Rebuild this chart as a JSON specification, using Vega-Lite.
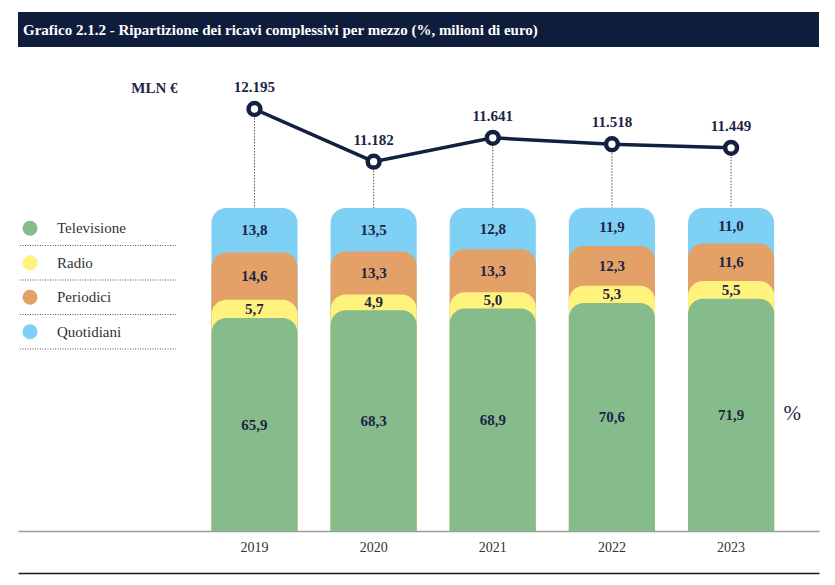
{
  "$schema": "https://vega.github.io/schema/vega-lite/v6.json",
  "padding": {"left": 18, "top": 12, "right": 16, "bottom": 5},
  "background": "white",
  "config": {
    "font": "Liberation Serif",
    "view": {"stroke": null},
    "locale": {"number": {"decimal": ",", "thousands": ".", "grouping": [3], "currency": ["", " €"]}}
  },
  "datasets": {
    "shares": [
      {"year": "2019", "medium": "Televisione", "rank": 1, "pct": 65.9},
      {"year": "2019", "medium": "Radio", "rank": 2, "pct": 5.7},
      {"year": "2019", "medium": "Periodici", "rank": 3, "pct": 14.6},
      {"year": "2019", "medium": "Quotidiani", "rank": 4, "pct": 13.8},
      {"year": "2020", "medium": "Televisione", "rank": 1, "pct": 68.3},
      {"year": "2020", "medium": "Radio", "rank": 2, "pct": 4.9},
      {"year": "2020", "medium": "Periodici", "rank": 3, "pct": 13.3},
      {"year": "2020", "medium": "Quotidiani", "rank": 4, "pct": 13.5},
      {"year": "2021", "medium": "Televisione", "rank": 1, "pct": 68.9},
      {"year": "2021", "medium": "Radio", "rank": 2, "pct": 5.0},
      {"year": "2021", "medium": "Periodici", "rank": 3, "pct": 13.3},
      {"year": "2021", "medium": "Quotidiani", "rank": 4, "pct": 12.8},
      {"year": "2022", "medium": "Televisione", "rank": 1, "pct": 70.6},
      {"year": "2022", "medium": "Radio", "rank": 2, "pct": 5.3},
      {"year": "2022", "medium": "Periodici", "rank": 3, "pct": 12.3},
      {"year": "2022", "medium": "Quotidiani", "rank": 4, "pct": 11.9},
      {"year": "2023", "medium": "Televisione", "rank": 1, "pct": 71.9},
      {"year": "2023", "medium": "Radio", "rank": 2, "pct": 5.5},
      {"year": "2023", "medium": "Periodici", "rank": 3, "pct": 11.6},
      {"year": "2023", "medium": "Quotidiani", "rank": 4, "pct": 11.0}
    ],
    "totals": [
      {"year": "2019", "total": 12195},
      {"year": "2020", "total": 11182},
      {"year": "2021", "total": 11641},
      {"year": "2022", "total": 11518},
      {"year": "2023", "total": 11449}
    ],
    "media": [
      {"medium": "Televisione"},
      {"medium": "Radio"},
      {"medium": "Periodici"},
      {"medium": "Quotidiani"}
    ]
  },
  "spacing": 13,
  "bounds": "flush",
  "vconcat": [
    {
      "width": 801,
      "height": 35,
      "view": {"fill": "#0f1d3d", "stroke": null},
      "data": {"values": [{"title": "Grafico 2.1.2 - Ripartizione dei ricavi complessivi per mezzo (%, milioni di euro)"}]},
      "mark": {"type": "text", "align": "left", "baseline": "middle", "dx": 5, "font": "Liberation Serif", "fontWeight": "bold", "fontSize": 15, "color": "white"},
      "encoding": {
        "x": {"datum": 0, "type": "quantitative", "scale": {"domain": [0, 1], "nice": false}, "axis": null},
        "text": {"field": "title"}
      }
    },
    {
      "width": 801,
      "height": 471,
      "resolve": {"scale": {"x": "independent", "y": "independent"}},
      "layer": [
        {
          "data": {"name": "totals"},
          "encoding": {
            "x": {
              "field": "year", "type": "ordinal",
              "scale": {"type": "band", "paddingInner": 0.2773, "paddingOuter": 1, "align": 0.8117, "round": false},
              "axis": {"orient": "bottom", "offset": 42, "labels": false, "ticks": false, "title": null, "domainColor": "#1a1a1a", "domainWidth": 1.5}
            },
            "y": {
              "field": "total", "type": "quantitative",
              "scale": {"domain": [4080, 13138], "zero": false, "nice": false},
              "axis": {"orient": "left", "title": "MLN €", "labels": false, "ticks": false, "domain": false, "grid": false,
                       "titleAngle": 0, "titleAlign": "right", "titleBaseline": "middle", "titleX": 159, "titleY": 27,
                       "titleFont": "Liberation Serif", "titleFontSize": 15, "titleFontWeight": "bold", "titleColor": "#1d2545"}
            }
          },
          "layer": [
            {"mark": {"type": "rule", "strokeDash": [1.5, 1.5], "color": "#555555", "strokeWidth": 1}, "encoding": {"y2": {"datum": 4080}}},
            {"mark": {"type": "line", "color": "#14203f", "strokeWidth": 3.5}},
            {"mark": {"type": "point", "filled": false, "fill": "white", "stroke": "#14203f", "strokeWidth": 4.5, "size": 140, "opacity": 1}},
            {"mark": {"type": "text", "dy": -22, "baseline": "middle", "fontWeight": "bold", "fontSize": 15, "color": "#1d2545"},
             "encoding": {"text": {"field": "total", "type": "quantitative", "format": ",.0f"}}}
          ]
        },
        {
          "data": {"name": "shares"},
          "encoding": {
            "x": {
              "field": "year", "type": "ordinal",
              "scale": {"type": "band", "paddingInner": 0.2773, "paddingOuter": 1, "align": 0.8117, "round": false},
              "axis": {"orient": "bottom", "title": null, "ticks": false, "domainColor": "#9a9a9a", "domainWidth": 1.5,
                       "labelFont": "Liberation Serif", "labelFontSize": 14, "labelColor": "#333333", "labelPadding": 9, "labelAngle": 0}
            }
          },
          "layer": [
            {
              "transform": [{"stack": "pct", "groupby": ["year"], "sort": [{"field": "rank", "order": "ascending"}], "as": ["y0", "y1"]}],
              "mark": {"type": "bar", "cornerRadiusTopLeft": 15, "cornerRadiusTopRight": 15},
              "encoding": {
                "y": {
                  "field": "y1", "type": "quantitative", "stack": null,
                  "scale": {"domain": [0, 145.8], "nice": false, "zero": true},
                  "axis": {"orient": "right", "title": "%", "labels": false, "ticks": false, "domain": false, "grid": false,
                           "titleAngle": 0, "titleAlign": "left", "titleBaseline": "middle", "titleX": -36, "titleY": 353,
                           "titleFont": "Liberation Serif", "titleFontSize": 21, "titleFontWeight": "normal", "titleColor": "#1d2545"}
                },
                "color": {
                  "field": "medium", "type": "nominal",
                  "scale": {"domain": ["Televisione", "Radio", "Periodici", "Quotidiani"], "range": ["#86bc8b", "#fff27d", "#e3a167", "#7ed0f5"]},
                  "legend": null
                },
                "order": {"field": "rank", "sort": "descending"}
              }
            },
            {
              "mark": {"type": "text", "baseline": "middle", "fontWeight": "bold", "fontSize": 15, "color": "#1d2545"},
              "encoding": {
                "y": {"field": "pct", "type": "quantitative", "stack": "zero", "bandPosition": 0.5},
                "detail": {"field": "medium"},
                "order": {"field": "rank", "sort": "ascending"},
                "text": {"field": "pct", "type": "quantitative", "format": ".1f"}
              }
            }
          ]
        },
        {
          "data": {"name": "media"},
          "encoding": {
            "y": {
              "field": "medium", "type": "nominal", "axis": null,
              "scale": {"type": "band", "domain": ["Televisione", "Radio", "Periodici", "Quotidiani"], "range": [151, 289], "paddingInner": 0, "paddingOuter": 0, "round": false}
            }
          },
          "layer": [
            {
              "mark": {"type": "rule", "strokeDash": [1, 1.5], "color": "#555555", "strokeWidth": 1},
              "encoding": {
                "x": {"datum": 0.0025, "type": "quantitative", "scale": {"domain": [0, 1], "nice": false, "zero": false}, "axis": null},
                "x2": {"datum": 0.197},
                "y": {
                  "field": "medium", "type": "nominal", "axis": null, "bandPosition": 1,
                  "scale": {"type": "band", "domain": ["Televisione", "Radio", "Periodici", "Quotidiani"], "range": [151, 289], "paddingInner": 0, "paddingOuter": 0, "round": false}
                }
              }
            },
            {
              "mark": {"type": "circle", "size": 225, "opacity": 1},
              "encoding": {
                "x": {"datum": 0.015, "type": "quantitative"},
                "color": {"field": "medium", "type": "nominal", "legend": null}
              }
            },
            {
              "mark": {"type": "text", "align": "left", "baseline": "middle", "fontSize": 15, "color": "#333333"},
              "encoding": {
                "x": {"datum": 0.0487, "type": "quantitative"},
                "text": {"field": "medium"}
              }
            }
          ]
        }
      ]
    }
  ]
}
